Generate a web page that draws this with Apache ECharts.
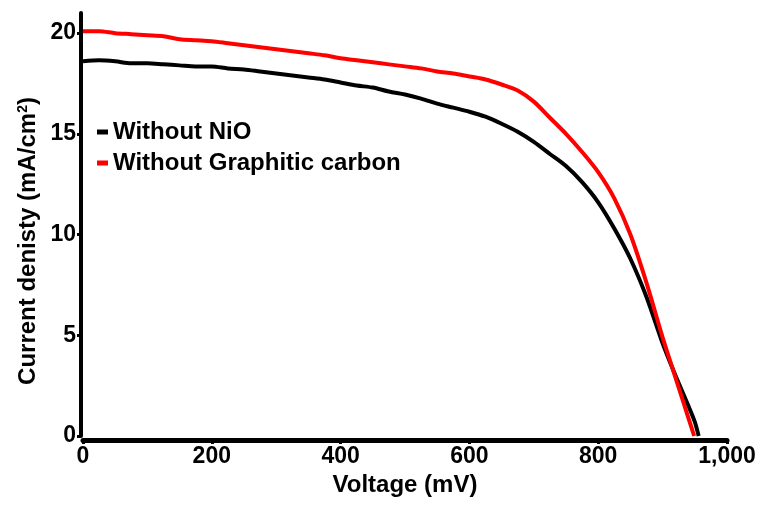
<!DOCTYPE html>
<html>
<head>
<meta charset="utf-8">
<script src="https://cdn.jsdelivr.net/npm/echarts@6/dist/echarts.min.js"></script>
<style>
html,body{margin:0;padding:0;background:#fff;}
#chart{width:763px;height:505px;}
</style>
</head>
<body>
<div id="chart"></div>
<script>
// ---- data ----
const seriesNames = ['Without NiO', 'Without Graphitic carbon'];
const seriesColors = ['#000000', '#ff0000'];

const noNiOVoltage = [0,25,50,75,100,125,150,175,200,225,250,275,300,325,350,375,400,425,450,475,500,525,550,575,600,625,650,675,700,725,750,775,800,825,850,875,900,920,940,950,956];
const noNiOCurrent = [18.6,18.65,18.6,18.5,18.5,18.45,18.4,18.35,18.35,18.25,18.2,18.1,18.0,17.9,17.8,17.7,17.55,17.4,17.3,17.1,16.95,16.75,16.5,16.3,16.1,15.85,15.5,15.1,14.6,14.0,13.4,12.6,11.6,10.3,8.8,6.9,4.6,3.0,1.5,0.7,0];

const noCarbonVoltage = [0,25,50,75,100,125,150,175,200,225,250,275,300,325,350,375,400,425,450,475,500,525,550,575,600,625,650,675,700,725,750,775,800,825,850,875,900,920,940,949];
const noCarbonCurrent = [20.1,20.1,20.0,19.95,19.9,19.85,19.7,19.65,19.6,19.5,19.4,19.3,19.2,19.1,19.0,18.9,18.75,18.65,18.55,18.45,18.35,18.25,18.1,18.0,17.85,17.7,17.45,17.15,16.6,15.8,15.0,14.1,13.1,11.8,10.0,7.6,4.9,2.9,0.9,0];

const xTicks = [0,200,400,600,800,1000];
const yTicks = [0,5,10,15,20];
const xTitle = 'Voltage (mV)';
const yTitleMain = 'Current denisty (mA/cm';
const yTitleSup = '2';

// ---- chart ----
function pairs(xs, ys){ return xs.map((x,i)=>[x, ys[i]]); }
const FONT = '"Liberation Sans", Arial, sans-serif';

const chart = echarts.init(document.getElementById('chart'), null, {renderer:'canvas'});
chart.setOption({
  animation: false,
  backgroundColor: '#ffffff',
  grid: {left: 83, right: 36, top: 13, bottom: 69, containLabel: false},
  legend: {
    orient: 'vertical',
    left: 92, top: 115,
    icon: 'rect',
    itemWidth: 11, itemHeight: 5,
    itemGap: 7,
    data: seriesNames,
    textStyle: {fontFamily: FONT, fontWeight: 'bold', fontSize: 24, color: '#000'}
  },
  xAxis: {
    type: 'value', min: 0, max: 1000, interval: 200,
    offset: 4,
    name: xTitle, nameLocation: 'middle', nameGap: 30,
    nameTextStyle: {fontFamily: FONT, fontWeight: 'bold', fontSize: 24, color: '#000'},
    axisLine: {show: true, onZero: false, lineStyle: {color: '#000', width: 5}},
    axisTick: {show: true, inside: false, length: 4, lineStyle: {color: '#000', width: 3}},
    splitLine: {show: false},
    axisLabel: {
      margin: 5, fontFamily: FONT, fontWeight: 'bold', fontSize: 23, color: '#000',
      customValues: xTicks,
      formatter: v => v.toLocaleString('en-US')
    }
  },
  yAxis: {
    type: 'value', min: 0, max: 21,
    offset: 2,
    axisLine: {show: true, onZero: false, lineStyle: {color: '#000', width: 4}},
    axisTick: {show: true, inside: false, length: 4, lineStyle: {color: '#000', width: 3}, customValues: yTicks},
    splitLine: {show: false},
    axisLabel: {
      margin: 5, fontFamily: FONT, fontWeight: 'bold', fontSize: 23, color: '#000',
      customValues: yTicks
    }
  },
  graphic: [{
    type: 'text',
    x: 28, y: 241,
    rotation: Math.PI/2,
    style: {
      text: '{m|' + yTitleMain + '}{s|' + yTitleSup + '}{m|)}',
      align: 'center', verticalAlign: 'middle',
      rich: {
        m: {fontFamily: FONT, fontWeight: 'bold', fontSize: 24, fill: '#000', verticalAlign: 'bottom'},
        s: {fontFamily: FONT, fontWeight: 'bold', fontSize: 14, fill: '#000', verticalAlign: 'top', padding: [0,0,10,0]}
      }
    }
  }],
  series: [
    {
      name: seriesNames[0], type: 'line', data: pairs(noNiOVoltage, noNiOCurrent),
      showSymbol: false, smooth: 0.3,
      lineStyle: {color: seriesColors[0], width: 4},
      itemStyle: {color: seriesColors[0]}
    },
    {
      name: seriesNames[1], type: 'line', data: pairs(noCarbonVoltage, noCarbonCurrent),
      showSymbol: false, smooth: 0.3,
      lineStyle: {color: seriesColors[1], width: 4},
      itemStyle: {color: seriesColors[1]}
    }
  ]
});
</script>
</body>
</html>
